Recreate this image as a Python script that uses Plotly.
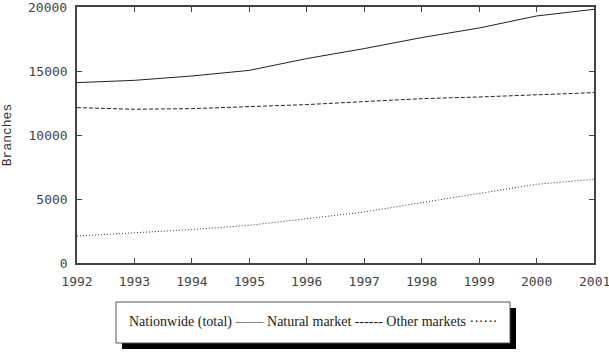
import plotly.graph_objects as go

years = [1992, 1993, 1994, 1995, 1996, 1997, 1998, 1999, 2000, 2001]
nationwide = [14090, 14270, 14610, 15050, 15970, 16750, 17610, 18360, 19300, 19820]
natural = [12140, 12010, 12060, 12190, 12375, 12610, 12840, 12970, 13155, 13310]
other = [2110, 2345, 2610, 2945, 3465, 3985, 4715, 5420, 6150, 6540]
y_ticks = [0, 5000, 10000, 15000, 20000]

fig = go.Figure()
fig.add_trace(go.Scatter(x=years, y=nationwide, mode="lines",
                         line=dict(color="#222", width=1), name="Nationwide (total)"))
fig.add_trace(go.Scatter(x=years, y=natural, mode="lines",
                         line=dict(color="#222", width=1, dash="4px,2px"), name="Natural market"))
fig.add_trace(go.Scatter(x=years, y=other, mode="lines",
                         line=dict(color="#333", width=1, dash="1px,2px"), name="Other markets"))

tickfont = dict(family="DejaVu Sans Mono", size=13, color="#444")
fig.update_xaxes(range=[1992, 2001], tickvals=years, ticktext=[str(y) for y in years],
                 showgrid=False, zeroline=False, showline=True, linecolor="#444", linewidth=1.5,
                 mirror="ticks", ticks="inside", ticklen=5, tickcolor="#444", tickwidth=1,
                 tickfont=tickfont, ticklabelstandoff=6, automargin=False)
fig.update_yaxes(range=[0, 20000], tickvals=y_ticks, ticktext=[str(v) for v in y_ticks],
                 showgrid=False, zeroline=False, showline=True, linecolor="#444", linewidth=1.5,
                 mirror="ticks", ticks="inside", ticklen=5, tickcolor="#444", tickwidth=1,
                 tickfont=tickfont, ticklabelstandoff=5, automargin=False,
                 title=dict(text="Branches", font=dict(family="Liberation Mono", size=13, color="#333"),
                            standoff=22))

# edge tick labels that plotly drops because they overflow the page
fig.add_annotation(xref="x", yref="paper", x=years[-1], y=0, yshift=-9,
                   text=str(years[-1]), showarrow=False, xanchor="center", yanchor="top",
                   font=tickfont)
fig.add_annotation(xref="paper", yref="y", x=0, y=y_ticks[-1], xshift=-8,
                   text=str(y_ticks[-1]), showarrow=False, xanchor="right", yanchor="middle",
                   font=tickfont)

# legend box with shadow
fig.add_shape(type="rect", xref="paper", yref="paper",
              x0=(122 - 77) / 517, x1=(516 - 77) / 517,
              y0=(263 - 349) / 256, y1=(263 - 308) / 256,
              fillcolor="black", line=dict(width=0), layer="above")
fig.add_shape(type="rect", xref="paper", yref="paper",
              x0=(116 - 77) / 517, x1=(510 - 77) / 517,
              y0=(263 - 343) / 256, y1=(263 - 302) / 256,
              fillcolor="white", line=dict(color="#555", width=1), layer="above")
fig.add_annotation(xref="paper", yref="paper", x=(313 - 77) / 517, y=(263 - 322) / 256,
                   text="Nationwide (total) —— Natural market ------ Other markets ······",
                   showarrow=False, xanchor="center", yanchor="middle",
                   font=dict(family="Liberation Serif", size=14, color="#222"))

fig.update_layout(width=609, height=358, margin=dict(l=77, r=15, t=7, b=95),
                  plot_bgcolor="white", paper_bgcolor="white", showlegend=False)
fig.write_html("out.html")
